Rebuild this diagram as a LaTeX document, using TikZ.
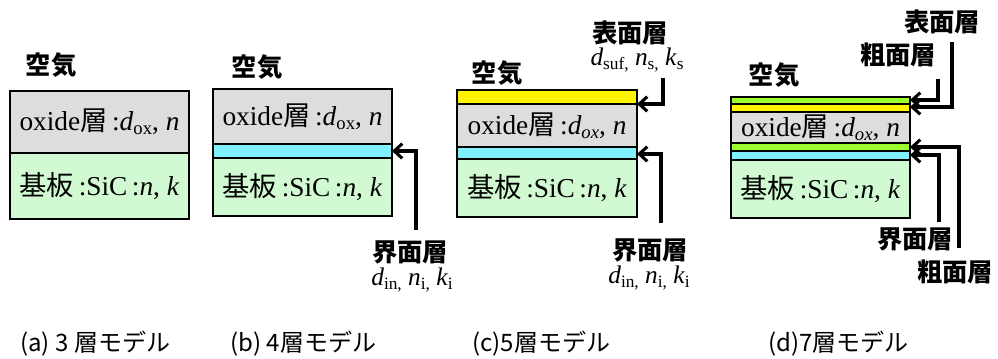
\documentclass[tikz,border=0pt]{standalone}
\usepackage{fontspec}
\setmainfont{Liberation Serif}
\newfontfamily\jsans{Noto Sans CJK JP}
\usetikzlibrary{arrows.meta}

\definecolor{oxgray}{RGB}{221,221,221}
\definecolor{subgreen}{RGB}{210,250,210}
\definecolor{ifcyan}{RGB}{128,240,255}
\definecolor{sfyellow}{RGB}{255,245,0}
\definecolor{rglime}{RGB}{155,255,45}

% lowered small text for indices
\newcommand\lsub[2][14]{\raisebox{-0.3ex}{\fontsize{#1}{#1}\selectfont #2}}

\tikzset{
  layer/.style={draw=black, line width=1.1pt},
  boxtext/.style={font=\fontsize{20.5}{22}\selectfont, inner sep=0pt},
  lbl/.style={font=\jsans\bfseries\fontsize{19}{21}\selectfont, inner sep=0pt},
  parm/.style={font=\fontsize{19}{21}\selectfont, inner sep=0pt},
  captext/.style={font=\jsans\fontsize{18}{20}\selectfont, anchor=west, inner sep=0pt},
  ptr/.style={line width=2.3pt, -{Straight Barb[length=6pt,width=11pt,line width=2.3pt]}}
}

\begin{document}
\begin{tikzpicture}[x=0.75pt,y=-0.75pt]
\useasboundingbox (0,0) rectangle (998,358);

% (a) three-layer model
\draw[layer, fill=oxgray]   (10,91) rectangle (189,153);
\draw[layer, fill=subgreen] (10,153) rectangle (189,219);
\node[boxtext] (aOx)  at (99.5,122) {oxide{\jsans 層}\,:\textit{d}\lsub{ox}, \textit{n}};
\node[boxtext] (aSub) at (99.5,186) {{\jsans 基板}\,:SiC\,:\textit{n}, \textit{k}};
\node[lbl] (aAir) at (51,65) {空気};

% (b) four-layer model
\draw[layer, fill=oxgray]   (213,89) rectangle (392,144);
\draw[layer, fill=ifcyan]   (213,144) rectangle (392,158);
\draw[layer, fill=subgreen] (213,158) rectangle (392,216);
\node[boxtext] (bOx)  at (302.5,117) {oxide{\jsans 層}\,:\textit{d}\lsub{ox}, \textit{n}};
\node[boxtext] (bSub) at (302.5,187) {{\jsans 基板}\,:SiC\,:\textit{n}, \textit{k}};
\node[lbl] (bAir) at (257,67) {空気};
\node[lbl]  (bIfL) at (410,252) {界面層};
\node[parm] (bIfP) at (412,280) {\textit{d}\lsub[13]{in,} \textit{n}\lsub[13]{i,} \textit{k}\lsub[13]{i}};
\coordinate (bIf) at (392,151);
\coordinate (bIfS) at (416,230);
\draw[ptr] (bIfS) |- (bIf);

% (c) five-layer model
\draw[layer, fill=sfyellow] (457,90) rectangle (637,104);
\draw[layer, fill=oxgray]   (457,104) rectangle (637,147);
\draw[layer, fill=ifcyan]   (457,147) rectangle (637,159);
\draw[layer, fill=subgreen] (457,159) rectangle (637,217);
\node[boxtext] (cOx)  at (547,126) {oxide{\jsans 層}\,:\textit{d\lsub{ox}}, \textit{n}};
\node[boxtext] (cSub) at (547,188) {{\jsans 基板}\,:SiC\,:\textit{n}, \textit{k}};
\node[lbl] (cAir) at (497,73) {空気};
\node[lbl]  (cSfL) at (630,33) {表面層};
\node[parm] (cSfP) at (637,60) {\textit{d}\lsub[13]{suf,} \textit{n}\lsub[13]{s,} \textit{k}\lsub[13]{s}};
\node[lbl]  (cIfL) at (650,250) {界面層};
\node[parm] (cIfP) at (649,278) {\textit{d}\lsub[13]{in,} \textit{n}\lsub[13]{i,} \textit{k}\lsub[13]{i}};
\coordinate (cSf) at (637,104);
\coordinate (cSfS) at (663,78);
\coordinate (cIf) at (637,154);
\coordinate (cIfS) at (661,223);
\draw[ptr] (cSfS) |- (cSf);
\draw[ptr] (cIfS) |- (cIf);

% (d) seven-layer model
\draw[layer, fill=rglime]   (731,97) rectangle (910,104);
\draw[layer, fill=sfyellow] (731,104) rectangle (910,112);
\draw[layer, fill=oxgray]   (731,112) rectangle (910,143);
\draw[layer, fill=rglime]   (731,143) rectangle (910,151);
\draw[layer, fill=ifcyan]   (731,151) rectangle (910,160);
\draw[layer, fill=subgreen] (731,160) rectangle (910,218);
\node[boxtext] (dOx)  at (820.5,128) {oxide{\jsans 層}\,:\textit{d\lsub{ox}}, \textit{n}};
\node[boxtext] (dSub) at (820.5,189) {{\jsans 基板}\,:SiC\,:\textit{n}, \textit{k}};
\node[lbl] (dAir) at (774,75) {空気};
\node[lbl] (dSfL)  at (942,22) {表面層};
\node[lbl] (dRgTL) at (898,55) {粗面層};
\node[lbl] (dIfL)  at (915,239) {界面層};
\node[lbl] (dRgBL) at (955,272) {粗面層};
\coordinate (dRgT) at (910,100);
\coordinate (dRgTS) at (938,79);
\coordinate (dSf) at (910,107);
\coordinate (dSfS) at (952,42);
\coordinate (dRgB) at (910,147);
\coordinate (dRgBS) at (959,248);
\coordinate (dIf) at (910,155);
\coordinate (dIfS) at (939,222);
\draw[ptr] (dRgTS) |- (dRgT);
\draw[ptr] (dSfS) |- (dSf);
\draw[ptr] (dRgBS) |- (dRgB);
\draw[ptr] (dIfS) |- (dIf);

% captions
\node[captext] (capA) at (20,344) {(a) 3 層モデル};
\node[captext] (capB) at (230,344) {(b) 4層モデル};
\node[captext] (capC) at (472,344) {(c)5層モデル};
\node[captext] (capD) at (768,344) {(d)7層モデル};
\end{tikzpicture}
\end{document}
